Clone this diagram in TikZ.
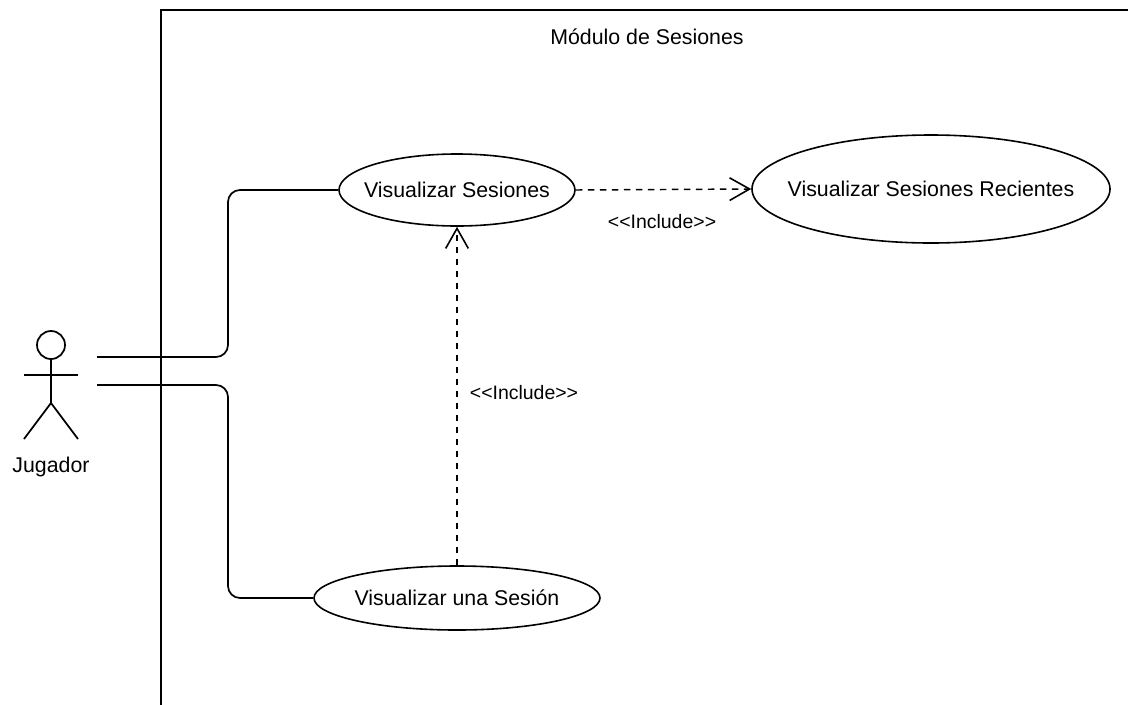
\documentclass[tikz,border=0pt]{standalone}
\usepackage{fontspec}
\setmainfont{Liberation Sans}
\usetikzlibrary{shapes.geometric,arrows.meta}
\tikzset{
  usecase/.style={ellipse,draw,line width=1.2pt,inner sep=0pt},
  uctext/.style={font=\fontsize{16}{19}\selectfont,inner sep=0pt},
  conn/.style={line width=1.3pt,rounded corners=9pt},
  incl/.style={line width=1.1pt,dash pattern=on 5pt off 4pt,-{Straight Barb[length=15pt,width=17pt,line width=1.2pt]}},
  lbl/.style={font=\fontsize{14.6}{17}\selectfont,inner sep=0pt},
  stick/.style={line width=1.3pt}
}
\begin{document}
\begin{tikzpicture}[x=0.75pt,y=-0.75pt]
\useasboundingbox (0,0) rectangle (1128,704);
\begin{scope}
\clip (0,0) rectangle (1128,704);
\node[draw,line width=1.3pt,minimum width=1200*0.75pt,minimum height=800*0.75pt,anchor=north west,inner sep=0pt] (sys) at (160,9) {};
\end{scope}
\node[uctext] (title) at (647,37) {Módulo de Sesiones};
% actor
\node[minimum width=54*0.75pt,minimum height=108*0.75pt,inner sep=0pt] (actor) at (51,385) {};
\draw[stick] (51,345) circle (14*0.75pt);
\draw[stick] (51,359) -- (51,403);
\draw[stick] (24,375) -- (78,375);
\draw[stick] (24,439) -- (51,403) -- (78,439);
\node[uctext] (jug) at (51,467) {Jugador};
\coordinate (a1) at (97,357);
\coordinate (a2) at (97,385);
% use cases
\node[usecase,minimum width=236*0.75pt,minimum height=72*0.75pt] (vs) at (457,190) {};
\node[uctext] (vst) at (vs.center) {Visualizar Sesiones};
\node[usecase,minimum width=358*0.75pt,minimum height=108*0.75pt] (vsr) at (931,189) {};
\node[uctext] (vsrt) at (vsr.center) {Visualizar Sesiones Recientes};
\node[usecase,minimum width=286*0.75pt,minimum height=64*0.75pt] (vus) at (457,598) {};
\node[uctext] (vust) at (vus.center) {Visualizar una Sesión};
% connectors
\draw[conn] (a1) -- (228,357) |- (vs.west);
\draw[conn] (a2) -- (228,385) |- (vus.west);
\draw[incl] (vs.east) -- (vsr.west);
\draw[incl] (vus.north) -- (vs.south);
\node[lbl] (l1) at (662,222) {<\kern0pt<Include>\kern0pt>};
\node[lbl] (l2) at (524,393) {<\kern0pt<Include>\kern0pt>};
\end{tikzpicture}
\end{document}
